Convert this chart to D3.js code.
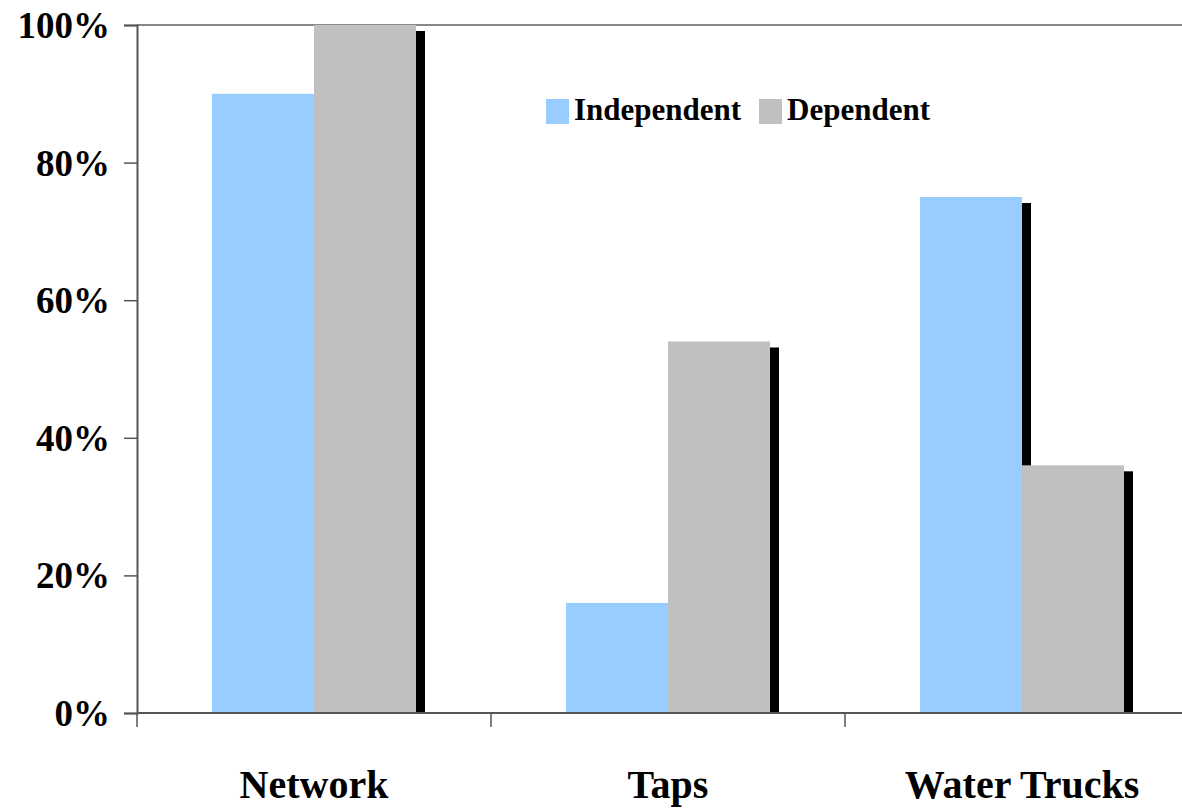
<!DOCTYPE html>
<html>
<head>
<meta charset="utf-8">
<script src="https://cdn.jsdelivr.net/npm/d3@7"></script>
<style>
  html, body { margin: 0; padding: 0; background: #fff; }
  svg { display: block; }
  text { font-family: "Book Antiqua", "Palatino Linotype", Palatino, "Liberation Serif", serif; font-weight: bold; fill: #000; }
</style>
</head>
<body>
<svg id="chart" width="1182" height="808"></svg>
<script>
const categories = ["Network", "Taps", "Water Trucks"];
const seriesNames = ["Independent", "Dependent"];
const independentValues = [90, 16, 75];
const dependentValues = [100, 54, 36];
const yTickValues = [0, 20, 40, 60, 80, 100];
const yTickLabels = ["0%", "20%", "40%", "60%", "80%", "100%"];
const seriesColors = ["#99CCFF", "#C0C0C0"];

(function () {
const svg = d3.select("#chart");
const pLeft = 137, pRight = 1199, pTop = 25, pBottom = 713;

const x = d3.scaleBand().domain(categories).range([pLeft, pRight]).paddingInner(0).paddingOuter(0);
const x1 = d3.scaleBand().domain(seriesNames).range([0, 204]);
const y = d3.scaleLinear().domain([0, 100]).range([pBottom, pTop]);

const rows = categories.map((c, i) => ({
  cat: c,
  vals: [
    { s: seriesNames[0], v: independentValues[i], color: seriesColors[0] },
    { s: seriesNames[1], v: dependentValues[i], color: seriesColors[1] }
  ]
}));

const barOffset = (x.bandwidth() - 204) / 2;
const shadowDx = 9, shadowDy = 6;

// top border line
svg.append("line")
  .attr("x1", pLeft).attr("x2", 1182)
  .attr("y1", y(100)).attr("y2", y(100))
  .attr("stroke", "#888").attr("stroke-width", 2);

const allBars = rows.flatMap(r => r.vals.map(d => ({ cat: r.cat, ...d })));

// shadows
svg.append("g").selectAll("rect").data(allBars).enter().append("rect")
  .attr("x", d => x(d.cat) + barOffset + x1(d.s) + shadowDx)
  .attr("y", d => y(d.v) + shadowDy)
  .attr("width", x1.bandwidth())
  .attr("height", d => Math.max(0, pBottom - y(d.v) - shadowDy))
  .attr("fill", "#000");

// bars
svg.append("g").selectAll("rect").data(allBars).enter().append("rect")
  .attr("x", d => x(d.cat) + barOffset + x1(d.s))
  .attr("y", d => y(d.v))
  .attr("width", x1.bandwidth())
  .attr("height", d => pBottom - y(d.v))
  .attr("fill", d => d.color);

// y axis
const yAxis = d3.axisLeft(y).tickValues(yTickValues)
  .tickFormat((d, i) => yTickLabels[i]).tickSize(13).tickPadding(14);
const gy = svg.append("g").attr("transform", `translate(${pLeft},0)`).call(yAxis);
gy.select(".domain").attr("stroke", "#555").attr("stroke-width", 2);
gy.selectAll(".tick line").attr("stroke", "#555").attr("stroke-width", 1.5);
gy.selectAll(".tick text")
  .attr("font-size", 37).attr("dy", "0.34em")
  .style("font-family", '"Book Antiqua", "Palatino Linotype", Palatino, "Liberation Serif", serif')
  .style("font-weight", "bold").attr("fill", "#000");

// x axis
svg.append("line")
  .attr("x1", pLeft).attr("x2", 1182)
  .attr("y1", pBottom).attr("y2", pBottom)
  .attr("stroke", "#555").attr("stroke-width", 2);
const boundaries = categories.map(c => x(c));
svg.append("g").selectAll("line").data(boundaries).enter().append("line")
  .attr("x1", d => d).attr("x2", d => d)
  .attr("y1", pBottom).attr("y2", pBottom + 14)
  .attr("stroke", "#555").attr("stroke-width", 1.5);

svg.append("g").selectAll("text").data(categories).enter().append("text")
  .attr("x", d => x(d) + x.bandwidth() / 2)
  .attr("y", 798)
  .attr("text-anchor", "middle")
  .attr("font-size", 40)
  .text(d => d);

// legend
const legendItems = [
  { name: seriesNames[0], color: seriesColors[0], x: 546 },
  { name: seriesNames[1], color: seriesColors[1], x: 759 }
];
const lg = svg.append("g");
legendItems.forEach(it => {
  lg.append("rect").attr("x", it.x).attr("y", 99).attr("width", 23).attr("height", 25).attr("fill", it.color);
  lg.append("text").attr("x", it.x + 28).attr("y", 120).attr("font-size", 31).text(it.name);
});
})();
</script>
</body>
</html>
